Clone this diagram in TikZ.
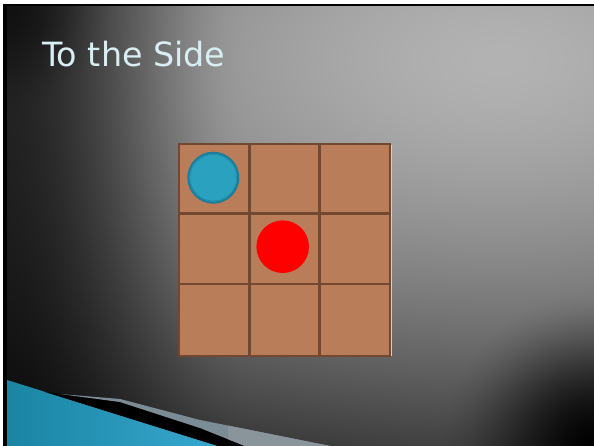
\documentclass[tikz,border=0pt]{standalone}
\usepackage{fontspec}
\setmainfont{DejaVu Sans}
\definecolor{cellc}{HTML}{B97D5A}
\definecolor{gridc}{HTML}{734830}
\definecolor{titlec}{HTML}{D8EEF2}
\definecolor{blueL}{HTML}{1A84A3}
\definecolor{blueR}{HTML}{36A8CE}
\definecolor{slatec}{HTML}{7B8C96}
\definecolor{checkc}{HTML}{8A959B}
\definecolor{tokenfill}{HTML}{2AA2BF}
\definecolor{tokenedge}{HTML}{1D7D98}
\definecolor{tokenring}{HTML}{2389A8}
\pgfdeclarefunctionalshading{bgshade}{\pgfpoint{0bp}{0bp}}{\pgfpoint{594bp}{446bp}}{}{
 2 copy
 386 sub 480 div dup mul
 exch 500 sub 900 div dup mul add
 0.75 exp 0.62 mul 0.70 exch sub
 dup 0 lt {pop 0} if
 2 index
 7 sub 240 div
 dup 1 gt {pop 1} if
 dup 0 lt {pop 0} if
 dup dup mul exch 2 mul 3 exch sub mul
 0.70 mul 0.30 add mul
 2 index 594 sub dup mul
 2 index dup mul add sqrt
 10 add 170 div
 dup 1 gt {pop 1} if
 dup dup mul exch 2 mul 3 exch sub mul
 mul
 3 1 roll
 439 sub dup mul exch 7 sub dup mul add sqrt
 110 div
 dup 1 gt {pop 1} if
 dup dup mul exch 2 mul 3 exch sub mul
 0.5 mul 0.5 add
 mul
 dup dup
}
\begin{document}
\begin{tikzpicture}[x=1bp,y=1bp]
\useasboundingbox (0,0) rectangle (594,446);
\fill[white] (0,0) rectangle (594,446);
\fill[black] (3,0) rectangle (594,442);
\begin{scope}
  \clip (7,0) rectangle (594,439);
  \node[inner sep=0, outer sep=0, anchor=south west] (bg) at (0,0) {\pgfuseshading{bgshade}};
  % bottom-left swoosh
  \shade[left color=blueL, right color=blueR] (7,66) -- (218,0) -- (7,0) -- cycle;
  \fill[black] (45,54) -- (120,44) -- (200,18) -- (245,0) -- (218,0) -- cycle;
  \fill[slatec] (60,52) -- (120,47) -- (200,26) -- (330,0) -- (245,0) -- (200,18) -- (120,44) -- cycle;
  \begin{scope}
    \clip (60,52) -- (120,47) -- (200,26) -- (330,0) -- (245,0) -- (200,18) -- (120,44) -- cycle;
    \fill[checkc] (228,0) rectangle (340,40);
  \end{scope}
\end{scope}
% title
\node[anchor=base west, inner sep=0, text=titlec, font=\fontsize{33.5}{40}\selectfont] (title) at (42,379) {To the Side};
% board
\fill[cellc] (179,90) rectangle (390,302);
\draw[gridc, line width=2.7] (249.3,90) -- (249.3,302);
\draw[gridc, line width=2.7] (319.7,90) -- (319.7,302);
\draw[gridc, line width=2.7] (179,232.7) -- (390,232.7);
\draw[gridc, line width=2.7] (179,162) -- (390,162);
\draw[gridc, line width=2] (179,90) rectangle (390,302);
\draw[gray!35!white, line width=1.2] (391.6,90) -- (391.6,301);
% tokens
\node[circle, minimum size=50bp, inner sep=0, fill=tokenfill, draw=tokenedge, line width=2bp] (bluetoken) at (213.3,268.3) {};
\draw[tokenring, line width=0.6] (bluetoken.center) circle (23.3);
\node[circle, minimum size=52.6bp, inner sep=0, fill=red] (redtoken) at (282.7,199.3) {};
\end{tikzpicture}
\end{document}
